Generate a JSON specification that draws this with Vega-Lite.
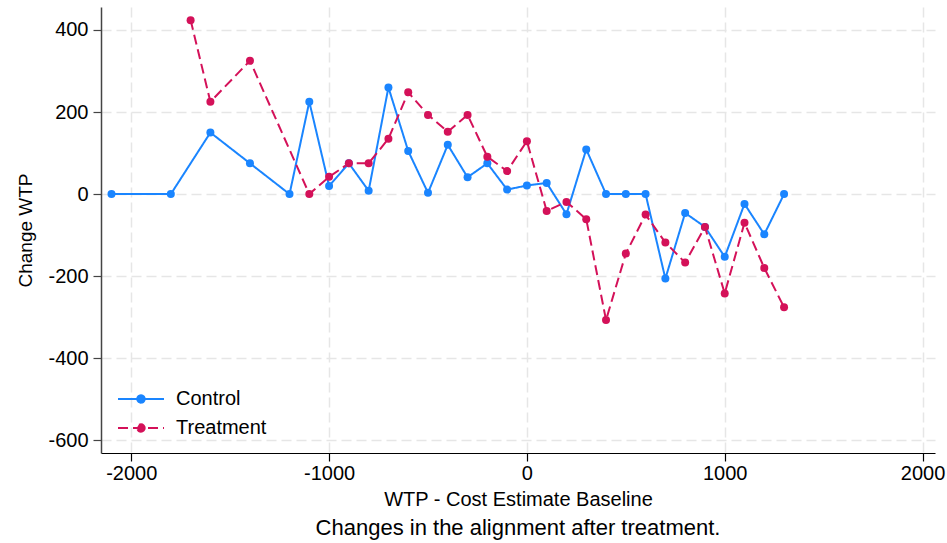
{
  "$schema": "https://vega.github.io/schema/vega-lite/v6.json",
  "width": 834,
  "height": 446,
  "autosize": "none",
  "padding": {"left": 101, "top": 7, "right": 12, "bottom": 90},
  "background": "white",
  "config": {"view": {"stroke": null}, "font": "Liberation Sans"},
  "title": {"text": "Changes in the alignment after treatment.", "orient": "bottom", "anchor": "middle", "fontSize": 22, "fontWeight": "normal", "color": "#000000", "offset": 9, "font": "Liberation Sans"},
  "data": {"values": [
    {"baseline": -2100, "change": 0, "group": "Control"},
    {"baseline": -1800, "change": 0, "group": "Control"},
    {"baseline": -1600, "change": 150, "group": "Control"},
    {"baseline": -1400, "change": 75, "group": "Control"},
    {"baseline": -1200, "change": 0, "group": "Control"},
    {"baseline": -1100, "change": 225, "group": "Control"},
    {"baseline": -1000, "change": 20, "group": "Control"},
    {"baseline": -900, "change": 75, "group": "Control"},
    {"baseline": -800, "change": 8, "group": "Control"},
    {"baseline": -700, "change": 260, "group": "Control"},
    {"baseline": -600, "change": 105, "group": "Control"},
    {"baseline": -500, "change": 3, "group": "Control"},
    {"baseline": -400, "change": 120, "group": "Control"},
    {"baseline": -300, "change": 41, "group": "Control"},
    {"baseline": -200, "change": 75, "group": "Control"},
    {"baseline": -100, "change": 11, "group": "Control"},
    {"baseline": 0, "change": 21, "group": "Control"},
    {"baseline": 100, "change": 27, "group": "Control"},
    {"baseline": 200, "change": -49, "group": "Control"},
    {"baseline": 300, "change": 109, "group": "Control"},
    {"baseline": 400, "change": 0, "group": "Control"},
    {"baseline": 500, "change": 0, "group": "Control"},
    {"baseline": 600, "change": 0, "group": "Control"},
    {"baseline": 700, "change": -206, "group": "Control"},
    {"baseline": 800, "change": -46, "group": "Control"},
    {"baseline": 900, "change": -80, "group": "Control"},
    {"baseline": 1000, "change": -153, "group": "Control"},
    {"baseline": 1100, "change": -24, "group": "Control"},
    {"baseline": 1200, "change": -98, "group": "Control"},
    {"baseline": 1300, "change": 0, "group": "Control"},
    {"baseline": -1700, "change": 424, "group": "Treatment"},
    {"baseline": -1600, "change": 225, "group": "Treatment"},
    {"baseline": -1400, "change": 325, "group": "Treatment"},
    {"baseline": -1100, "change": 0, "group": "Treatment"},
    {"baseline": -1000, "change": 42, "group": "Treatment"},
    {"baseline": -900, "change": 75, "group": "Treatment"},
    {"baseline": -800, "change": 75, "group": "Treatment"},
    {"baseline": -700, "change": 135, "group": "Treatment"},
    {"baseline": -600, "change": 248, "group": "Treatment"},
    {"baseline": -500, "change": 193, "group": "Treatment"},
    {"baseline": -400, "change": 152, "group": "Treatment"},
    {"baseline": -300, "change": 193, "group": "Treatment"},
    {"baseline": -200, "change": 91, "group": "Treatment"},
    {"baseline": -100, "change": 56, "group": "Treatment"},
    {"baseline": 0, "change": 129, "group": "Treatment"},
    {"baseline": 100, "change": -41, "group": "Treatment"},
    {"baseline": 200, "change": -19, "group": "Treatment"},
    {"baseline": 300, "change": -61, "group": "Treatment"},
    {"baseline": 400, "change": -307, "group": "Treatment"},
    {"baseline": 500, "change": -145, "group": "Treatment"},
    {"baseline": 600, "change": -50, "group": "Treatment"},
    {"baseline": 700, "change": -118, "group": "Treatment"},
    {"baseline": 800, "change": -167, "group": "Treatment"},
    {"baseline": 900, "change": -80, "group": "Treatment"},
    {"baseline": 1000, "change": -242, "group": "Treatment"},
    {"baseline": 1100, "change": -70, "group": "Treatment"},
    {"baseline": 1200, "change": -180, "group": "Treatment"},
    {"baseline": 1300, "change": -276, "group": "Treatment"}
  ]},
  "encoding": {
    "x": {"field": "baseline", "type": "quantitative",
      "scale": {"domain": [-2153, 2063], "nice": false, "zero": false},
      "axis": {"values": [-2000, -1000, 0, 1000, 2000], "title": "WTP - Cost Estimate Baseline",
        "labelExpr": "'' + datum.value",
        "grid": true, "gridDash": [10, 5], "gridColor": "#e6e6e6", "gridWidth": 1.5,
        "domainColor": "#000000", "domainWidth": 1.2, "tickColor": "#000000", "tickSize": 8, "tickWidth": 1.2,
        "labelFontSize": 20, "labelColor": "#000000", "labelPadding": 2, "labelFont": "Liberation Sans",
        "titleFontSize": 20, "titleFontWeight": "normal", "titleColor": "#000000", "titlePadding": 6, "titleFont": "Liberation Sans"}},
    "y": {"field": "change", "type": "quantitative",
      "scale": {"domain": [-631, 456], "nice": false, "zero": false},
      "axis": {"values": [-600, -400, -200, 0, 200, 400], "title": "Change WTP",
        "labelExpr": "'' + datum.value",
        "grid": true, "gridDash": [10, 5], "gridColor": "#e6e6e6", "gridWidth": 1.5,
        "domainColor": "#444444", "domainWidth": 1.5, "tickColor": "#444444", "tickSize": 8, "tickWidth": 1.2,
        "labelFontSize": 20, "labelColor": "#000000", "labelPadding": 5, "labelFont": "Liberation Sans",
        "titleFontSize": 19, "titleFontWeight": "normal", "titleColor": "#000000", "titlePadding": 12, "titleFont": "Liberation Sans"}},
    "color": {"field": "group", "type": "nominal",
      "scale": {"domain": ["Control", "Treatment"], "range": ["#1a85ff", "#d41159"]},
      "legend": {"orient": "none", "legendX": 29, "legendY": 381, "title": null, "padding": 0,
        "symbolType": "M-2.3,0H2.3M0.37,0A0.37,0.37,0,1,1,-0.37,0A0.37,0.37,0,1,1,0.37,0",
        "symbolSize": 400, "symbolStrokeWidth": 2, "labelFontSize": 20, "labelOffset": 24, "rowPadding": 8,
        "labelColor": "#000000", "labelFont": "Liberation Sans",
        "encode": {"symbols": {"update": {"fill": {"scale": "color", "field": "value"}, "stroke": {"scale": "color", "field": "value"}, "opacity": {"value": 1}}}}}}
  },
  "layer": [
    {"mark": {"type": "line", "strokeWidth": 2},
     "encoding": {"strokeDash": {"field": "group", "type": "nominal",
       "scale": {"domain": ["Control", "Treatment"], "range": [[1, 0], [10, 5]]},
       "legend": {"orient": "none", "legendX": 29, "legendY": 381, "title": null, "padding": 0,
        "symbolType": "M-2.3,0H2.3M0.37,0A0.37,0.37,0,1,1,-0.37,0A0.37,0.37,0,1,1,0.37,0",
        "symbolSize": 400, "symbolStrokeWidth": 2, "labelFontSize": 20, "labelOffset": 24, "rowPadding": 8,
        "labelColor": "#000000", "labelFont": "Liberation Sans"}}}},
    {"mark": {"type": "point", "filled": true, "size": 64, "opacity": 1}}
  ]
}
